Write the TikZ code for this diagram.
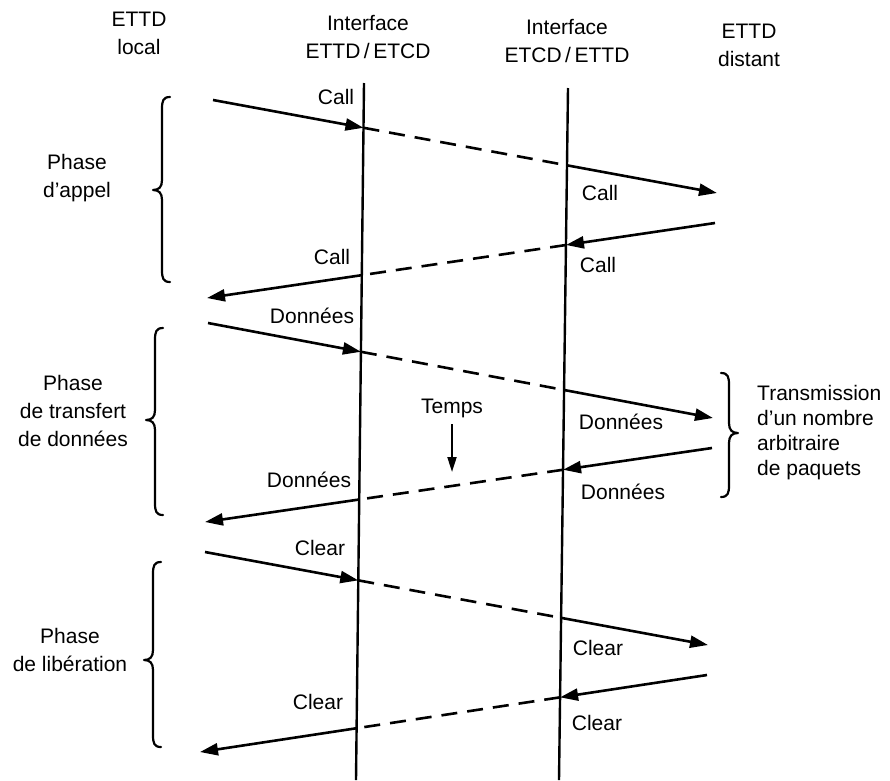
\documentclass[tikz,border=0pt]{standalone}
\usepackage{fontspec}
\setmainfont{Liberation Sans}
\usetikzlibrary{arrows.meta,intersections,calc}
\newcommand\msgright[3]{%
 \coordinate (#1s) at #2; \coordinate (#1e) at #3;
 \path[name path=#1p] (#1s) -- (#1e);
 \path[name intersections={of=#1p and L1, by=#1a}];
 \path[name intersections={of=#1p and L2, by=#1b}];
 \draw[arr] (#1s) -- (#1a);
 \draw[dsh] (#1a) -- (#1b);
 \draw[arr] (#1b) -- (#1e);}
\newcommand\msgleft[3]{%
 \coordinate (#1s) at #2; \coordinate (#1e) at #3;
 \path[name path=#1p] (#1s) -- (#1e);
 \path[name intersections={of=#1p and L1, by=#1a}];
 \path[name intersections={of=#1p and L2, by=#1b}];
 \draw[arr] (#1s) -- (#1b);
 \draw[dsh] (#1b) -- (#1a);
 \draw[arr] (#1a) -- (#1e);}
\newcommand\phbrace[5]{%
 \draw[brc] ({#1+8*#5},#2) .. controls ({#1+1*#5},#2) and (#1,{#2+4}) .. (#1,{#2+12})
   -- (#1,{#3-10}) .. controls (#1,{#3-3}) and ({#1-3*#5},#3) .. ({#1-9*#5},#3)
   .. controls ({#1-3*#5},#3) and (#1,{#3+3}) .. (#1,{#3+10})
   -- (#1,{#4-12}) .. controls (#1,{#4-4}) and ({#1+1*#5},#4) .. ({#1+8*#5},#4);}
\begin{document}
\begin{tikzpicture}[x=1pt,y=-1pt,
  lbl/.style={font=\fontsize{21}{28}\selectfont, inner sep=0pt, align=center},
  rlbl/.style={font=\fontsize{21}{25}\selectfont, inner sep=0pt, align=left},
  msg/.style={line width=2.6pt},
  arr/.style={msg,-{Triangle[length=18pt,width=12pt]}},
  dsh/.style={msg,dash pattern=on 16pt off 10pt},
  life/.style={line width=2.4pt},
  brc/.style={line width=2.2pt, line cap=round, line join=round}]
\useasboundingbox (0,0) rectangle (890,780);

% headers
\node[lbl] (h1) at (139,33) {ETTD\\local};
\node[lbl] (h2) at (368,37) {Interface\\ETTD\,/\,ETCD};
\node[lbl] (h3) at (567,41) {Interface\\ETCD\,/\,ETTD};
\node[lbl] (h4) at (749,45) {ETTD\\distant};

% lifelines
\coordinate (L1t) at (364,83); \coordinate (L1b) at (356,780);
\coordinate (L2t) at (568,88); \coordinate (L2b) at (559,780);
\draw[life, name path=L1] (L1t) -- (L1b);
\draw[life, name path=L2] (L2t) -- (L2b);

% messages
\msgright{ma}{(213,100)}{(717,193)}
\msgleft{mb}{(715,223)}{(207,298)}
\msgright{mc}{(208,323)}{(713,418)}
\msgleft{md}{(712,448)}{(205,522)}
\msgright{me}{(205,552)}{(708,645)}
\msgleft{mf}{(707,675)}{(200,752)}

% message labels
\node[lbl] (ca1) at (336,97) {Call};
\node[lbl] (ca2) at (600,193) {Call};
\node[lbl] (ca3) at (332,257) {Call};
\node[lbl] (ca4) at (598,265) {Call};
\node[lbl] (do1) at (312,316) {Données};
\node[lbl] (do2) at (621,422) {Données};
\node[lbl] (do3) at (309,480) {Données};
\node[lbl] (do4) at (623,492) {Données};
\node[lbl] (cl1) at (320,548) {Clear};
\node[lbl] (cl2) at (598,648) {Clear};
\node[lbl] (cl3) at (318,702) {Clear};
\node[lbl] (cl4) at (597,723) {Clear};

% time
\node[lbl] (temps) at (452,408) {Temps};
\coordinate (tA) at (452,424); \coordinate (tB) at (452,472);
\draw[line width=2pt,-{Triangle[length=15pt,width=9pt]}] (tA) -- (tB);

% phase braces and labels
\phbrace{162}{97}{190}{282}{1}
\phbrace{155}{328}{420}{515}{1}
\phbrace{153}{562}{660}{747}{1}
\phbrace{729}{373}{433}{497}{-1}

\node[lbl] (p1) at (77,178) {Phase\\d'appel};
\node[lbl] (p2) at (73,411) {Phase\\de transfert\\de données};
\node[lbl] (p3) at (70,650) {Phase\\de libération};
\node[rlbl, anchor=west] (tr) at (757,433) {Transmission\\d'un nombre\\arbitraire\\de paquets};
\end{tikzpicture}
\end{document}
